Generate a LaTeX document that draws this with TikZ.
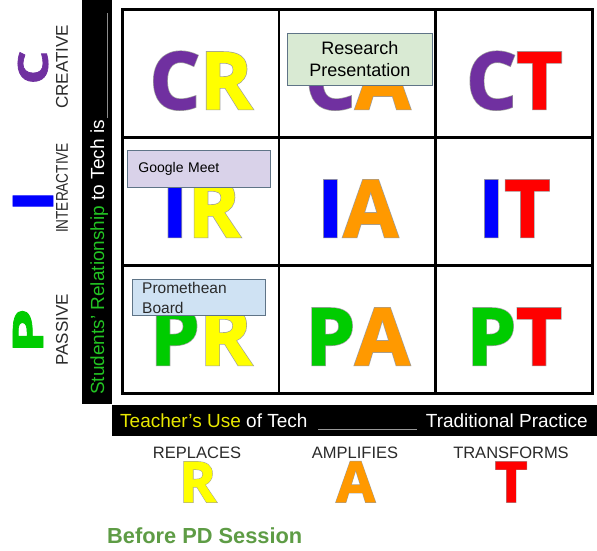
\documentclass[tikz,border=0pt]{standalone}
\usepackage{fontspec}
\usepackage{graphicx}
\setmainfont{Liberation Sans}
\newfontfamily\heavyfont{Open Sans}[BoldFeatures={FakeBold=1.5}]
\newfontfamily\heavyolfont{Open Sans}[BoldFeatures={FakeBold=3.2}]
\definecolor{cpurple}{HTML}{7030A0}
\definecolor{cyellow}{HTML}{FFFF00}
\definecolor{corange}{HTML}{FF9900}
\definecolor{cred}{HTML}{FF0000}
\definecolor{cblue}{HTML}{0000FF}
\definecolor{cgreen}{HTML}{00CC00}
\definecolor{lblgreen}{HTML}{22C322}
\definecolor{tyellow}{HTML}{E8E800}
\definecolor{pdgreen}{HTML}{5E9C45}
\definecolor{notegreen}{HTML}{D9EAD3}
\definecolor{notelav}{HTML}{D9D2E9}
\definecolor{noteblue}{HTML}{CFE2F3}
\definecolor{noteedge}{HTML}{5F7487}
\definecolor{labgray}{HTML}{2A2A2A}
\newcommand\bigsel{\heavyfont\bfseries\fontsize{79}{79}\selectfont}
\newcommand\bigolsel{\heavyolfont\bfseries\fontsize{79}{79}\selectfont}
\newcommand\midsel{\heavyfont\bfseries\fontsize{56}{56}\selectfont}
\newcommand\midolsel{\heavyolfont\bfseries\fontsize{56}{56}\selectfont}
\tikzset{
  cellbox/.style={draw=black, line width=2.8pt, minimum width=156.67pt, minimum height=128pt, inner sep=0pt, anchor=north west},
  bigl/.style={font=\bigsel, inner sep=0pt, anchor=base west},
  bigol/.style={font=\bigolsel, inner sep=0pt, anchor=base west, text=black!38},
  midl/.style={font=\midsel, inner sep=0pt, anchor=base west},
  midol/.style={font=\midolsel, inner sep=0pt, anchor=base west, text=black!38},
  note/.style={draw=noteedge, line width=0.8pt, inner sep=0pt, anchor=north west},
  sidelabel/.style={rotate=90, inner sep=0pt, text=labgray, font=\fontsize{17}{17}\selectfont},
  sideletter/.style={rotate=90, inner sep=0pt},
  bottomlabel/.style={anchor=base, inner sep=0pt, text=labgray, font=\fontsize{16.5}{16.5}\selectfont},
  bartext/.style={inner sep=0pt, text=white, font=\fontsize{19}{19}\selectfont},
}
\newlength\wA
\newlength\wB
\newcommand\measurebig[1]{\expandafter\newlength\csname wb#1\endcsname
  \expandafter\settowidth\csname wb#1\endcsname{\bigsel #1}}
\newcommand\measuremid[1]{\expandafter\newlength\csname wm#1\endcsname
  \expandafter\settowidth\csname wm#1\endcsname{\midsel #1}}
\newcommand\bigpair[6]{%
  \setlength{\wA}{\csname wb#3\endcsname}\setlength{\wB}{\csname wb#5\endcsname}%
  \coordinate (#2s) at ([xshift=-0.5\wA-0.5\wB, yshift=-35.5pt]#1.center);
  \node[bigol] (#2o1) at (#2s) {#3};
  \node[bigol] (#2o2) at ([xshift=\wA]#2s) {#5};
  \node[bigl, text=#4] (#2a) at (#2s) {#3};
  \node[bigl, text=#6] (#2b) at ([xshift=\wA]#2s) {#5};
}
\newcommand\midletter[4]{% #1 name, #2 x, #3 letter, #4 colour
  \setlength{\wA}{\csname wm#3\endcsname}%
  \coordinate (#1s) at ([xshift=-0.5\wA]#2,502);
  \node[midol] (#1o) at (#1s) {#3};
  \node[midl, text=#4] (#1) at (#1s) {#3};
}
\begin{document}
\measurebig{C}\measurebig{I}\measurebig{P}\measurebig{R}\measurebig{A}\measurebig{T}%
\measuremid{R}\measuremid{A}\measuremid{T}%
\begin{tikzpicture}[x=1pt, y=-1pt]
\useasboundingbox[fill=white] (0,0) rectangle (597,550);

% black bars
\fill[black] (82,0) rectangle (112,404);
\fill[black] (112,405) rectangle (597,436);

% grid cells
\foreach \r in {1,2,3} {
  \foreach \c in {1,2,3} {
    \node[cellbox] (c\r\c) at ({121+(\c-1)*156.67},{8+(\r-1)*128}) {};
  }
}

% cell letters
\bigpair{c11}{CR}{C}{cpurple}{R}{cyellow}
\bigpair{c12}{CA}{C}{cpurple}{A}{corange}
\bigpair{c13}{CT}{C}{cpurple}{T}{cred}
\bigpair{c21}{IR}{I}{cblue}{R}{cyellow}
\bigpair{c22}{IA}{I}{cblue}{A}{corange}
\bigpair{c23}{IT}{I}{cblue}{T}{cred}
\bigpair{c31}{PR}{P}{cgreen}{R}{cyellow}
\bigpair{c32}{PA}{P}{cgreen}{A}{corange}
\bigpair{c33}{PT}{P}{cgreen}{T}{cred}

% sticky notes
\node[note, fill=notegreen, minimum width=145pt, minimum height=52pt, align=center,
      font=\fontsize{18}{22}\selectfont] (research) at (287,33) {Research\\Presentation};
\node[note, fill=notelav, text width=121pt, inner xsep=11pt, minimum height=37pt, align=left,
      font=\fontsize{14}{16}\selectfont] (meet) at (127,150) {Google Meet};
\node[note, fill=noteblue, minimum width=133pt, minimum height=36pt] (promebox) at (132,279) {};
\node[anchor=north west, inner sep=0pt, align=left, text=labgray,
      font=\fontsize{15.5}{20}\selectfont] (prometext) at (142,282) {Promethean\\Board};

% vertical axis text
\node[rotate=90, anchor=base west, bartext] (srel) at (104,395)
  {\textcolor{lblgreen}{Students’ Relationship} to Tech is\hspace{2pt}\textcolor{black!45}{\rule[-4pt]{105pt}{1pt}}};

% side labels
\node[sidelabel] (passive) at (62,330) {PASSIVE};
\node[sidelabel] (interactive) at (62,188) {\scalebox{0.8}[1]{INTERACTIVE}};
\node[sidelabel] (creative) at (62,67) {CREATIVE};
\node[sideletter, text=cgreen] (sideP) at (28,331) {\resizebox{46pt}{30pt}{\heavyfont\bfseries P}};
\node[sideletter, text=cblue] (sideI) at (33,201) {\resizebox{22pt}{40pt}{\heavyfont\bfseries I}};
\node[sideletter, text=cpurple] (sideC) at (33,67.5) {\resizebox{34pt}{30pt}{\heavyfont\bfseries C}};

% bottom bar text
\node[bartext, anchor=base west] (teacher) at (120,427) {\textcolor{tyellow}{Teacher’s Use} of Tech};
\node[inner sep=0pt, anchor=base west] (blank) at (318,427) {\textcolor{black!40}{\rule[-3pt]{99pt}{1pt}}};
\node[bartext, anchor=base east] (trad) at (588,427) {Traditional Practice};

% bottom labels
\node[bottomlabel] (replaces) at (197,458) {REPLACES};
\node[bottomlabel] (amplifies) at (355,458) {AMPLIFIES};
\node[bottomlabel] (transforms) at (511,458) {TRANSFORMS};
\midletter{R}{197.5}{R}{cyellow}
\midletter{A}{355.5}{A}{corange}
\midletter{T}{511}{T}{cred}

\node[anchor=base west, inner sep=0pt, text=pdgreen, font=\bfseries\fontsize{21.8}{21.8}\selectfont] (before) at (107,543) {Before PD Session};
\end{tikzpicture}
\end{document}
